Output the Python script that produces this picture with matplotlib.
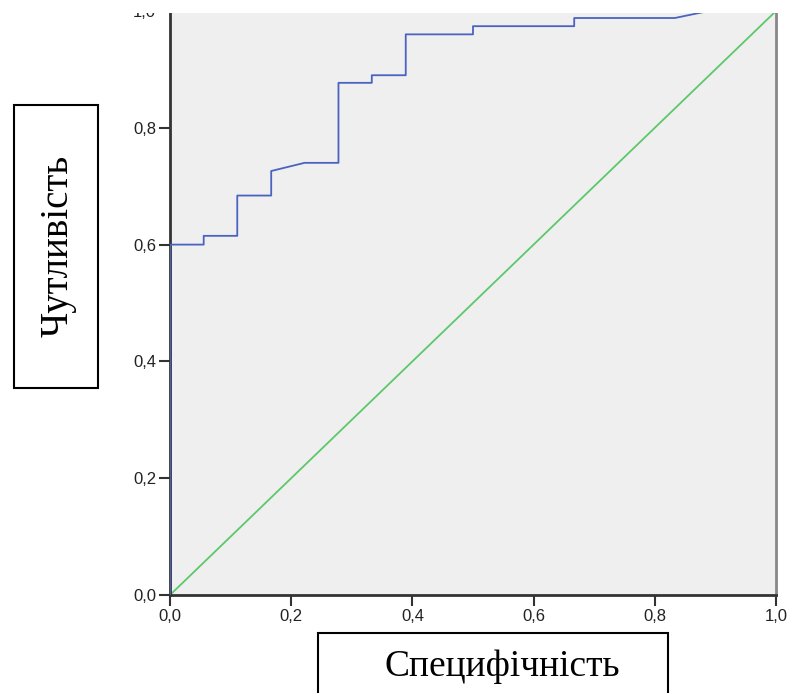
import matplotlib
matplotlib.use("Agg")
import matplotlib.pyplot as plt
from matplotlib.patches import Rectangle

# ROC curve points (1 - specificity, sensitivity)
fpr = [0.0, 0.0, 0.0556, 0.0556, 0.111, 0.111, 0.167, 0.167, 0.222, 0.278, 0.278,
       0.333, 0.333, 0.389, 0.389, 0.5, 0.5, 0.667, 0.667, 0.833, 0.889, 1.0]
tpr = [0.0, 0.600, 0.600, 0.615, 0.615, 0.684, 0.684, 0.726, 0.740, 0.740, 0.877,
       0.877, 0.890, 0.890, 0.960, 0.960, 0.974, 0.974, 0.988, 0.988, 1.0, 1.0]
ref_line = [0.0, 1.0]
ticks = [0.0, 0.2, 0.4, 0.6, 0.8, 1.0]
tick_labels = ["0,0", "0,2", "0,4", "0,6", "0,8", "1,0"]

W, H = 789, 693
fig = plt.figure(figsize=(W / 100, H / 100), dpi=100)
fig.patch.set_facecolor("white")

# axes box in pixels: left 170, right 776, top 11, bottom 595
ax = fig.add_axes([170 / W, (H - 595) / H, (776 - 170) / W, (595 - 11) / H])
ax.set_facecolor("#efefef")

ax.plot(ref_line, ref_line, color="#5cc86a", lw=1.3, zorder=2)
ax.plot(fpr, tpr, color="#4a63c0", lw=1.3, zorder=3)

ax.set_xlim(0, 1)
ax.set_ylim(0, 1)
ax.set_xticks(ticks)
ax.set_xticklabels(tick_labels)
ax.set_yticks(ticks)
ax.set_yticklabels(tick_labels)
ax.tick_params(direction="out", length=8, width=1.5, color="#333333",
               labelsize=12, labelcolor="#222222", pad=2)
for lab in ax.get_xticklabels() + ax.get_yticklabels():
    lab.set_family("Liberation Sans")

ax.spines["left"].set_color("#333333")
ax.spines["left"].set_linewidth(2)
ax.spines["bottom"].set_color("#333333")
ax.spines["bottom"].set_linewidth(2)
ax.spines["right"].set_color("#888888")
ax.spines["right"].set_linewidth(2)
ax.spines["top"].set_visible(False)

# white band covering the top of the picture (label 1,0 is cut there)
fig.add_artist(Rectangle((0, (H - 13) / H), 1, 13 / H, transform=fig.transFigure,
                         facecolor="white", edgecolor="none", zorder=10))

# boxed axis titles
fig.add_artist(Rectangle((14 / W, (H - 388) / H), (98 - 14) / W, (388 - 105) / H,
                         transform=fig.transFigure, facecolor="white",
                         edgecolor="black", lw=1.5, zorder=5))
fig.text(58 / W, (H - 246) / H, "Чутливість", rotation=90, ha="center", va="center",
         family="Liberation Serif", fontsize=28, zorder=6)

fig.add_artist(Rectangle((318 / W, -0.05), (668 - 318) / W, (H - 633) / H + 0.05,
                         transform=fig.transFigure, facecolor="white",
                         edgecolor="black", lw=1.5, zorder=5))
fig.text(502 / W, (H - 667) / H, "Специфічність", ha="center", va="center",
         family="Liberation Serif", fontsize=27, zorder=6)

fig.savefig("out.png", dpi=100)
